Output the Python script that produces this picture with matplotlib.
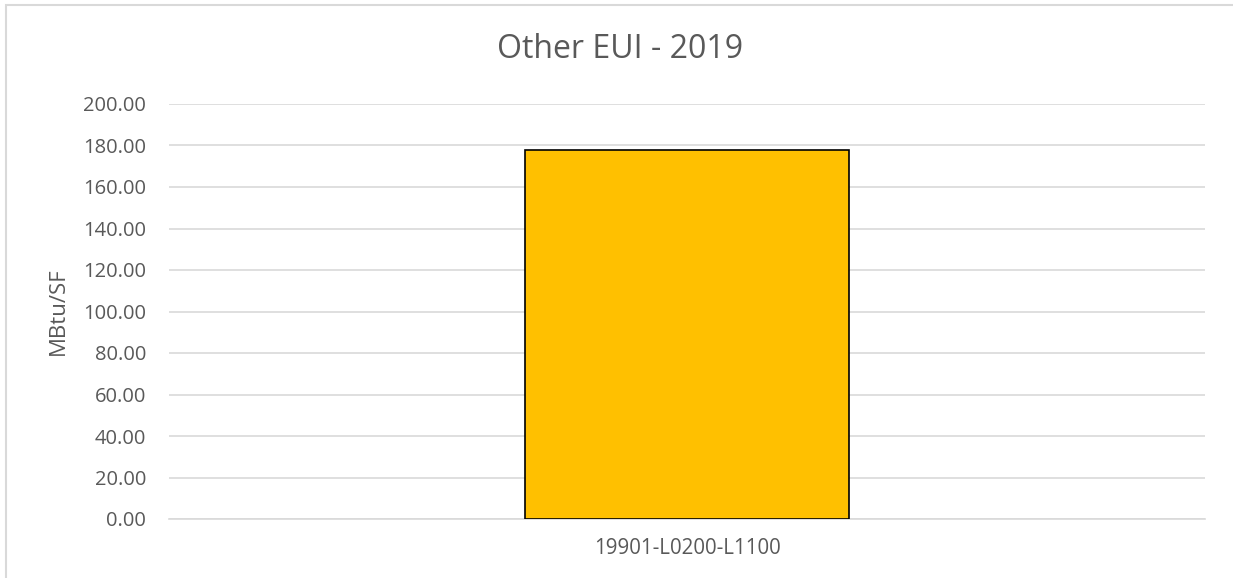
import matplotlib.pyplot as plt
import matplotlib.patches as patches
import numpy as np

plt.rcParams.update({'font.family': ['Open Sans', 'DejaVu Sans'], 'font.size': 11})

categories = ["19901-L0200-L1100"]
eui_values = [177.8]
y_ticks = np.arange(0, 201, 20)

bar_color = '#FFC000'
grid_color = '#D9D9D9'
text_color = '#595959'

fig = plt.figure(figsize=(12.33, 5.78), dpi=100)
W, H = 1233, 578
# plot area in pixels: left 169, right 1205, top 104, bottom 519
ax = fig.add_axes([169 / W, 1 - 519 / H, (1205 - 169) / W, (519 - 104) / H])

x = np.arange(len(categories))
ax.bar(x, eui_values, width=0.313, color=bar_color, edgecolor='black',
       linewidth=1.2, zorder=3)

ax.set_xlim(-0.5, 0.5)
ax.set_ylim(0, 200)
ax.set_yticks(y_ticks)
ax.set_yticklabels([f"{v:.2f}" for v in y_ticks], color=text_color, fontsize=14.5)
ax.set_xticks(x)
ax.set_xticklabels(categories, color=text_color, fontsize=14.8)
ax.tick_params(axis='both', length=0)
ax.tick_params(axis='y', pad=16.5)
ax.tick_params(axis='x', pad=14)

ax.yaxis.grid(True, color=grid_color, linewidth=1.2, zorder=0)
for side in ['top', 'right', 'left']:
    ax.spines[side].set_visible(False)
ax.spines['bottom'].set_color(grid_color)
ax.spines['bottom'].set_linewidth(1.2)

ax.set_ylabel("MBtu/SF", color=text_color, fontsize=16, labelpad=10)
# title is centred on the whole chart frame, not on the plot area
fig.text(620 / W, 1 - 50 / H, "Other EUI - 2019", ha='center', va='center',
         color=text_color, fontsize=23)

# chart frame (only left and top edges fall inside the image)
frame = patches.Rectangle((6 / W, -0.1), 1.2, 1 - 5 / H + 0.1, transform=fig.transFigure,
                          fill=False, edgecolor=grid_color, linewidth=1.5, clip_on=False)
fig.patches.append(frame)

fig.savefig("out.png", dpi=100)
